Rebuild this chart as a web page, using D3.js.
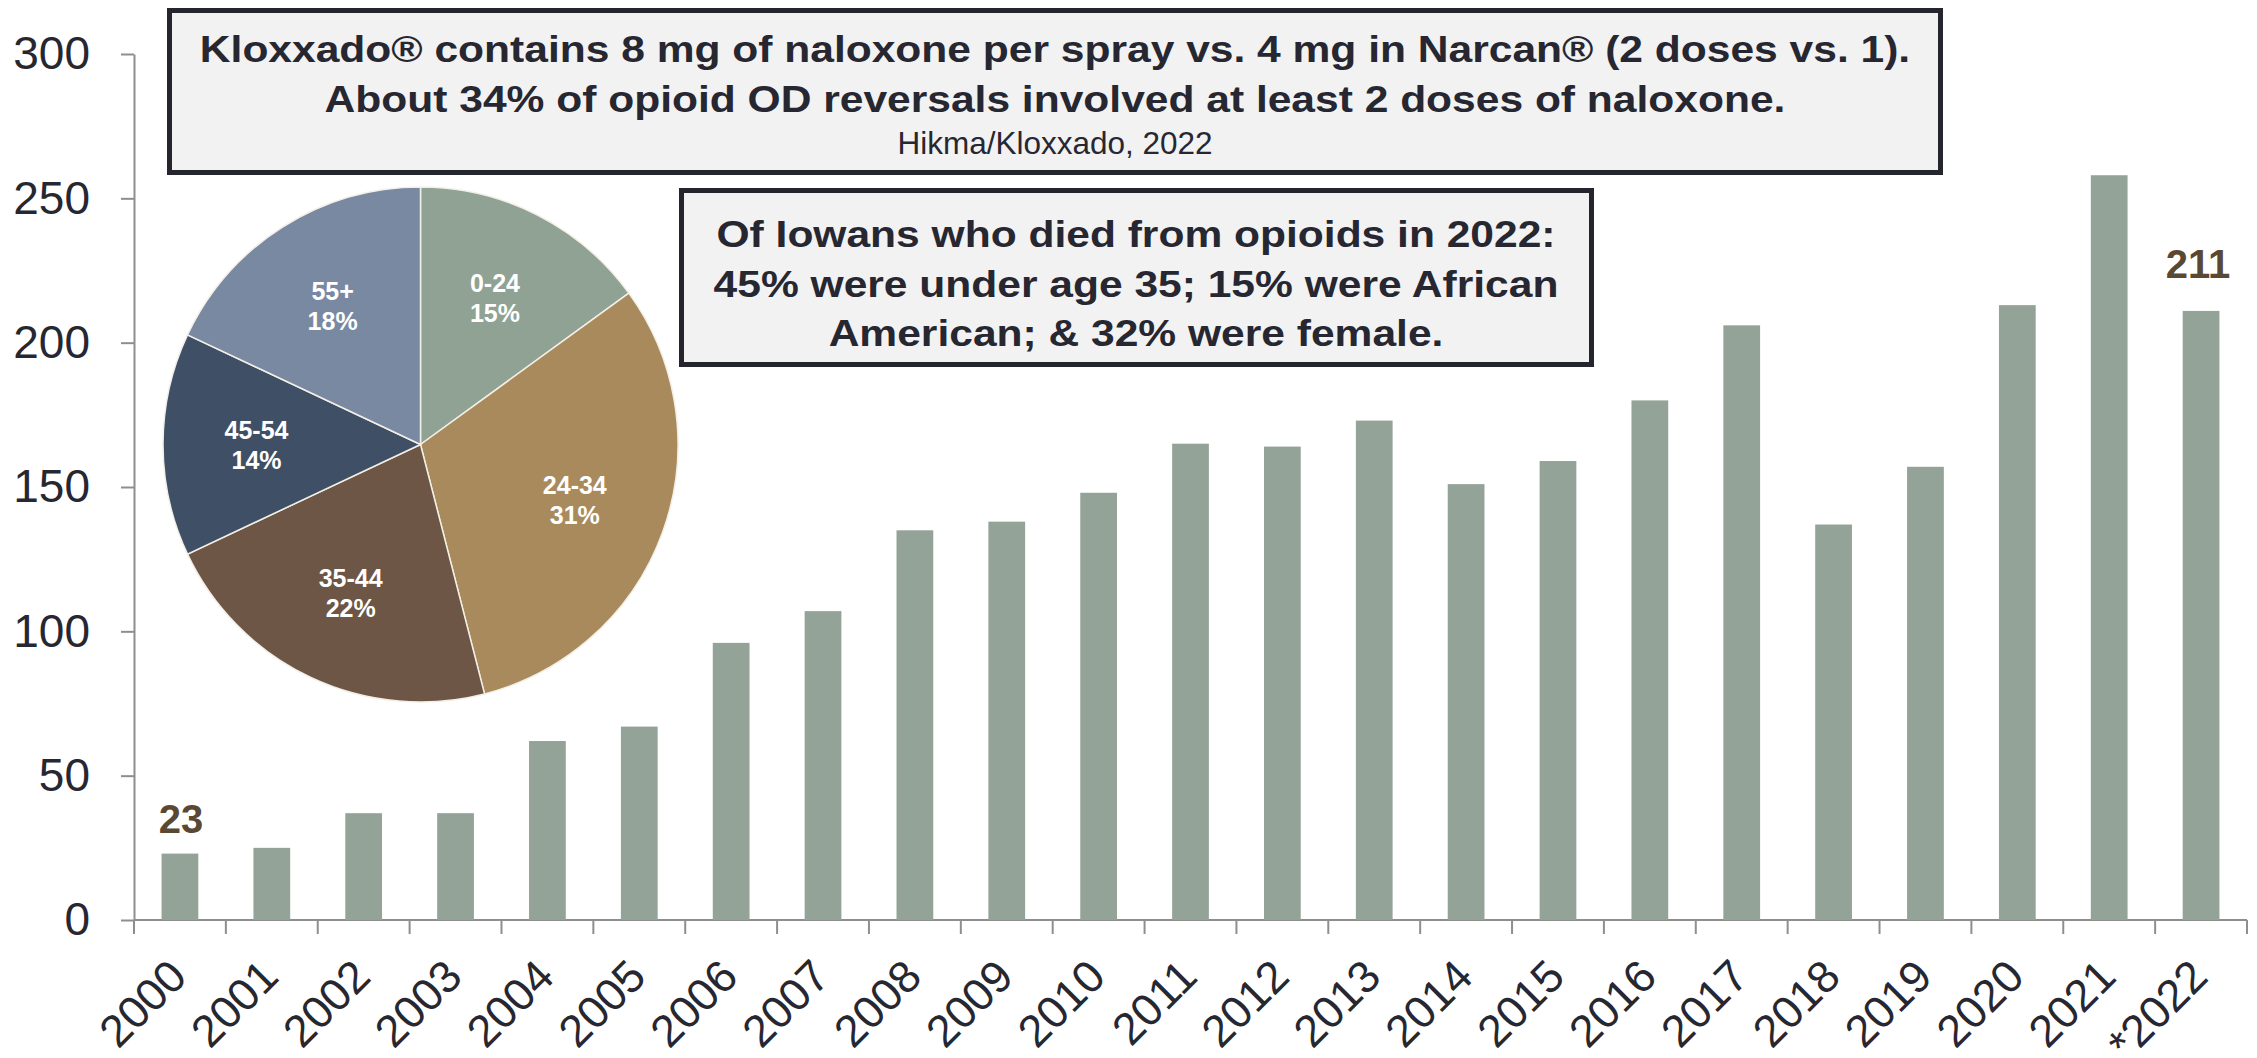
<!DOCTYPE html>
<html>
<head>
<meta charset="utf-8">
<script src="https://cdn.jsdelivr.net/npm/d3@7"></script>
<style>
  html, body { margin: 0; padding: 0; background: #ffffff; }
  svg { display: block; font-family: "Liberation Sans", Arial, sans-serif; }
</style>
</head>
<body>
<script>
// opioid deaths per year (bars)
const years = ["2000", "2001", "2002", "2003", "2004", "2005", "2006", "2007", "2008", "2009", "2010",
  "2011", "2012", "2013", "2014", "2015", "2016", "2017", "2018", "2019", "2020", "2021", "*2022"];
const deaths = [23, 25, 37, 37, 62, 67, 96, 107, 135, 138, 148, 165, 164, 173, 151, 159, 180, 206, 137, 157, 213, 258, 211];
const yTicks = [0, 50, 100, 150, 200, 250, 300];
const labeledYears = ["2000", "*2022"];

// age breakdown of 2022 deaths (pie)
const ageGroups = ["0-24", "24-34", "35-44", "45-54", "55+"];
const agePct = [15, 31, 22, 14, 18];
const ageColors = ["#8fa294", "#a98a5d", "#6d5646", "#3f4f66", "#7a89a2"];

// annotation boxes
const noteTop = [
  "Kloxxado\u00ae contains 8 mg of naloxone per spray vs. 4 mg in Narcan\u00ae (2 doses vs. 1).",
  "About 34% of opioid OD reversals involved at least 2 doses of naloxone."
];
const noteTopSource = "Hikma/Kloxxado, 2022";
const noteMid = [
  "Of Iowans who died from opioids in 2022:",
  "45% were under age 35; 15% were African",
  "American; & 32% were female."
];

const W = 2257, H = 1058;
const textCol = "#272731";
const axisCol = "#8e8e8e";

const svg = d3.select("body").append("svg")
  .attr("width", W)
  .attr("height", H);

/** scales */
const x = d3.scaleBand()
  .domain(years)
  .range([134, 2247])
  .paddingInner(0.6)
  .paddingOuter(0.3);

const y = d3.scaleLinear()
  .domain([0, 300])
  .range([920, 54]);

/** y axis */
const yAxis = svg.append("g")
  .attr("transform", `translate(${x.range()[0]},0)`)
  .call(d3.axisLeft(y).tickValues(yTicks).tickSize(13).tickPadding(31).tickSizeOuter(0));
yAxis.select(".domain").attr("stroke", axisCol).attr("stroke-width", 2);
yAxis.selectAll(".tick line").attr("stroke", axisCol).attr("stroke-width", 2);
yAxis.selectAll(".tick text")
  .attr("fill", textCol)
  .style("font-size", "46px")
  .style("font-family", "'Liberation Sans', Arial, sans-serif");

/** x axis - line, boundary ticks, rotated labels */
const xg = svg.append("g");
xg.append("line")
  .attr("x1", x.range()[0]).attr("x2", x.range()[1])
  .attr("y1", y(0)).attr("y2", y(0))
  .attr("stroke", axisCol).attr("stroke-width", 2);

const step = x.step();
const boundaries = years.map(d => x(d) - (step - x.bandwidth()) / 2);
boundaries.push(x.range()[1]);
xg.selectAll("line.xt")
  .data(boundaries)
  .enter().append("line")
  .attr("class", "xt")
  .attr("x1", d => d).attr("x2", d => d)
  .attr("y1", y(0)).attr("y2", y(0) + 14)
  .attr("stroke", axisCol).attr("stroke-width", 2);

xg.selectAll("text.xl")
  .data(years)
  .enter().append("text")
  .attr("class", "xl")
  .attr("transform", d => `translate(${x(d) + x.bandwidth() / 2 + 9},${y(0) + 59}) rotate(-45)`)
  .attr("text-anchor", "end")
  .attr("fill", textCol)
  .style("font-size", "45px")
  .text(d => d);

/** bars */
svg.append("g").selectAll("rect")
  .data(years)
  .enter().append("rect")
  .attr("x", (d) => x(d))
  .attr("width", x.bandwidth())
  .attr("y", (d, i) => y(deaths[i]))
  .attr("height", (d, i) => y(0) - y(deaths[i]))
  .attr("fill", "#93a398");

/** value labels on first and last bar */
const labelGap = { "2000": 21, "*2022": 33 };
svg.append("g").selectAll("text")
  .data(labeledYears)
  .enter().append("text")
  .attr("x", d => x(d) + x.bandwidth() / 2 + (d === "*2022" ? -3 : 1))
  .attr("y", d => y(deaths[years.indexOf(d)]) - labelGap[d])
  .attr("text-anchor", "middle")
  .attr("fill", "#5b4832")
  .style("font-size", "40px")
  .style("font-weight", "bold")
  .text(d => deaths[years.indexOf(d)]);

/** pie */
const pieR = 257.5;
const pieG = svg.append("g").attr("transform", "translate(420.5,444.5)");
const arcs = d3.pie().sort(null).value(d => d)(agePct);
const arc = d3.arc().innerRadius(0).outerRadius(pieR);
const labelArc = d3.arc().innerRadius(164).outerRadius(164);

pieG.selectAll("path")
  .data(arcs)
  .enter().append("path")
  .attr("d", arc)
  .attr("fill", (d, i) => ageColors[i])
  .attr("stroke", "#f2efe6")
  .attr("stroke-width", 1.5);

const pieLabels = pieG.selectAll("text")
  .data(arcs)
  .enter().append("text")
  .attr("transform", d => `translate(${labelArc.centroid(d)})`)
  .attr("text-anchor", "middle")
  .attr("fill", "#ffffff")
  .style("font-size", "25px")
  .style("font-weight", "bold");
pieLabels.append("tspan").attr("x", 0).attr("y", -6).text((d, i) => ageGroups[i]);
pieLabels.append("tspan").attr("x", 0).attr("y", 24).text((d, i) => agePct[i] + "%");

/** annotation boxes */
function noteBox(x0, y0, x1, y1, lines, baselines, cx) {
  const g = svg.append("g");
  g.append("rect")
    .attr("x", x0 + 2.5).attr("y", y0 + 2.5)
    .attr("width", x1 - x0 - 5).attr("height", y1 - y0 - 5)
    .attr("fill", "#f2f2f2")
    .attr("stroke", "#25252d")
    .attr("stroke-width", 5);
  g.selectAll("text.b")
    .data(lines)
    .enter().append("text")
    .attr("class", "b")
    .attr("transform", (d, i) => `translate(${cx},${baselines[i]}) scale(1.15,1)`)
    .attr("text-anchor", "middle")
    .attr("fill", textCol)
    .style("font-size", "37px")
    .style("font-weight", "bold")
    .text(d => d);
  return g;
}

const topBox = noteBox(167, 8, 1943, 175, noteTop, [62, 112], 1055);
topBox.append("text")
  .attr("x", 1055).attr("y", 154)
  .attr("text-anchor", "middle")
  .attr("fill", textCol)
  .style("font-size", "31.5px")
  .text(noteTopSource);

noteBox(679, 188, 1594, 367, noteMid, [247, 297, 346], 1136);
</script>
</body>
</html>
